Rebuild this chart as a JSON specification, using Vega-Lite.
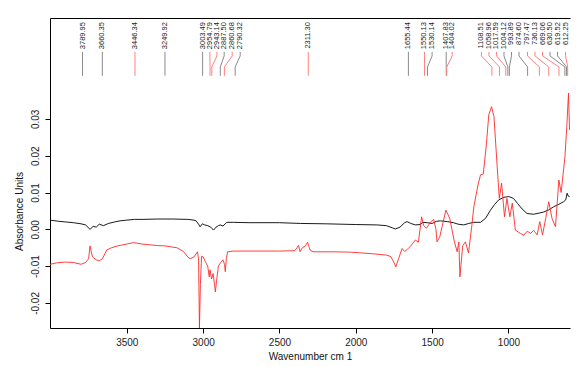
{
  "$schema": "https://vega.github.io/schema/vega-lite/v6.json",
  "width": 520,
  "height": 310,
  "autosize": {"type": "none"},
  "padding": {"left": 50, "top": 18, "right": 6, "bottom": 39},
  "background": "white",
  "config": {
    "font": "Liberation Sans",
    "view": {"stroke": null},
    "axis": {"grid": false, "domainColor": "#000000", "tickColor": "#000000", "labelColor": "#222222", "titleColor": "#111111", "labelFont": "Liberation Sans", "titleFont": "Liberation Sans"}
  },
  "datasets": {
    "spectra": [
      {"series": "Sample 1", "wn": 4003, "abs": 0.0025},
      {"series": "Sample 1", "wn": 3950, "abs": 0.0022},
      {"series": "Sample 1", "wn": 3900, "abs": 0.0020},
      {"series": "Sample 1", "wn": 3850, "abs": 0.0018},
      {"series": "Sample 1", "wn": 3800, "abs": 0.0015},
      {"series": "Sample 1", "wn": 3770, "abs": 0.0012},
      {"series": "Sample 1", "wn": 3741, "abs": 0.0000},
      {"series": "Sample 1", "wn": 3720, "abs": 0.0008},
      {"series": "Sample 1", "wn": 3700, "abs": 0.0006},
      {"series": "Sample 1", "wn": 3680, "abs": 0.0014},
      {"series": "Sample 1", "wn": 3653, "abs": 0.0010},
      {"series": "Sample 1", "wn": 3620, "abs": 0.0016},
      {"series": "Sample 1", "wn": 3580, "abs": 0.0020},
      {"series": "Sample 1", "wn": 3544, "abs": 0.0023},
      {"series": "Sample 1", "wn": 3500, "abs": 0.0025},
      {"series": "Sample 1", "wn": 3450, "abs": 0.0027},
      {"series": "Sample 1", "wn": 3393, "abs": 0.0027},
      {"series": "Sample 1", "wn": 3300, "abs": 0.0028},
      {"series": "Sample 1", "wn": 3200, "abs": 0.0028},
      {"series": "Sample 1", "wn": 3100, "abs": 0.0027},
      {"series": "Sample 1", "wn": 3060, "abs": 0.0025},
      {"series": "Sample 1", "wn": 3046, "abs": 0.0023},
      {"series": "Sample 1", "wn": 3030, "abs": 0.0014},
      {"series": "Sample 1", "wn": 3020, "abs": 0.0007},
      {"series": "Sample 1", "wn": 3005, "abs": 0.0015},
      {"series": "Sample 1", "wn": 2990, "abs": 0.0012},
      {"series": "Sample 1", "wn": 2970, "abs": 0.0010},
      {"series": "Sample 1", "wn": 2950, "abs": 0.0006},
      {"series": "Sample 1", "wn": 2932, "abs": -0.0002},
      {"series": "Sample 1", "wn": 2915, "abs": 0.0006},
      {"series": "Sample 1", "wn": 2900, "abs": 0.0010},
      {"series": "Sample 1", "wn": 2888, "abs": 0.0012},
      {"series": "Sample 1", "wn": 2870, "abs": 0.0009},
      {"series": "Sample 1", "wn": 2845, "abs": 0.0019},
      {"series": "Sample 1", "wn": 2800, "abs": 0.0019},
      {"series": "Sample 1", "wn": 2700, "abs": 0.0018},
      {"series": "Sample 1", "wn": 2500, "abs": 0.0018},
      {"series": "Sample 1", "wn": 2363, "abs": 0.0016},
      {"series": "Sample 1", "wn": 2200, "abs": 0.0015},
      {"series": "Sample 1", "wn": 2000, "abs": 0.0013},
      {"series": "Sample 1", "wn": 1862, "abs": 0.0012},
      {"series": "Sample 1", "wn": 1800, "abs": 0.0010},
      {"series": "Sample 1", "wn": 1760, "abs": 0.0004},
      {"series": "Sample 1", "wn": 1741, "abs": 0.0001},
      {"series": "Sample 1", "wn": 1710, "abs": 0.0006},
      {"series": "Sample 1", "wn": 1680, "abs": 0.0018},
      {"series": "Sample 1", "wn": 1664, "abs": 0.0021},
      {"series": "Sample 1", "wn": 1640, "abs": 0.0016},
      {"series": "Sample 1", "wn": 1610, "abs": 0.0012},
      {"series": "Sample 1", "wn": 1580, "abs": 0.0013},
      {"series": "Sample 1", "wn": 1560, "abs": 0.0019},
      {"series": "Sample 1", "wn": 1533, "abs": 0.0018},
      {"series": "Sample 1", "wn": 1500, "abs": 0.0016},
      {"series": "Sample 1", "wn": 1470, "abs": 0.0022},
      {"series": "Sample 1", "wn": 1446, "abs": 0.0023},
      {"series": "Sample 1", "wn": 1400, "abs": 0.0021},
      {"series": "Sample 1", "wn": 1360, "abs": 0.0018},
      {"series": "Sample 1", "wn": 1330, "abs": 0.0014},
      {"series": "Sample 1", "wn": 1293, "abs": 0.0012},
      {"series": "Sample 1", "wn": 1260, "abs": 0.0016},
      {"series": "Sample 1", "wn": 1230, "abs": 0.0019},
      {"series": "Sample 1", "wn": 1183, "abs": 0.0019},
      {"series": "Sample 1", "wn": 1150, "abs": 0.0030},
      {"series": "Sample 1", "wn": 1118, "abs": 0.0052},
      {"series": "Sample 1", "wn": 1090, "abs": 0.0068},
      {"series": "Sample 1", "wn": 1064, "abs": 0.0080},
      {"series": "Sample 1", "wn": 1030, "abs": 0.0087},
      {"series": "Sample 1", "wn": 998, "abs": 0.0089},
      {"series": "Sample 1", "wn": 967, "abs": 0.0084},
      {"series": "Sample 1", "wn": 940, "abs": 0.0070},
      {"series": "Sample 1", "wn": 910, "abs": 0.0055},
      {"series": "Sample 1", "wn": 878, "abs": 0.0043},
      {"series": "Sample 1", "wn": 836, "abs": 0.0041},
      {"series": "Sample 1", "wn": 800, "abs": 0.0044},
      {"series": "Sample 1", "wn": 770, "abs": 0.0047},
      {"series": "Sample 1", "wn": 740, "abs": 0.0052},
      {"series": "Sample 1", "wn": 705, "abs": 0.0061},
      {"series": "Sample 1", "wn": 670, "abs": 0.0068},
      {"series": "Sample 1", "wn": 639, "abs": 0.0075},
      {"series": "Sample 1", "wn": 625, "abs": 0.0080},
      {"series": "Sample 1", "wn": 616, "abs": 0.0098},
      {"series": "Sample 1", "wn": 608, "abs": 0.0090},
      {"series": "Sample 1", "wn": 600, "abs": 0.0089},
      {"series": "Sample 2", "wn": 4003, "abs": -0.0095},
      {"series": "Sample 2", "wn": 3960, "abs": -0.0091},
      {"series": "Sample 2", "wn": 3900, "abs": -0.0089},
      {"series": "Sample 2", "wn": 3850, "abs": -0.0090},
      {"series": "Sample 2", "wn": 3800, "abs": -0.0095},
      {"series": "Sample 2", "wn": 3770, "abs": -0.0090},
      {"series": "Sample 2", "wn": 3750, "abs": -0.0080},
      {"series": "Sample 2", "wn": 3741, "abs": -0.0045},
      {"series": "Sample 2", "wn": 3725, "abs": -0.0075},
      {"series": "Sample 2", "wn": 3700, "abs": -0.0083},
      {"series": "Sample 2", "wn": 3680, "abs": -0.0085},
      {"series": "Sample 2", "wn": 3660, "abs": -0.0080},
      {"series": "Sample 2", "wn": 3631, "abs": -0.0056},
      {"series": "Sample 2", "wn": 3600, "abs": -0.0050},
      {"series": "Sample 2", "wn": 3560, "abs": -0.0045},
      {"series": "Sample 2", "wn": 3500, "abs": -0.0040},
      {"series": "Sample 2", "wn": 3456, "abs": -0.0036},
      {"series": "Sample 2", "wn": 3400, "abs": -0.0040},
      {"series": "Sample 2", "wn": 3300, "abs": -0.0044},
      {"series": "Sample 2", "wn": 3250, "abs": -0.0045},
      {"series": "Sample 2", "wn": 3172, "abs": -0.0050},
      {"series": "Sample 2", "wn": 3130, "abs": -0.0060},
      {"series": "Sample 2", "wn": 3100, "abs": -0.0075},
      {"series": "Sample 2", "wn": 3085, "abs": -0.0080},
      {"series": "Sample 2", "wn": 3060, "abs": -0.0075},
      {"series": "Sample 2", "wn": 3037, "abs": -0.0061},
      {"series": "Sample 2", "wn": 3030, "abs": -0.0080},
      {"series": "Sample 2", "wn": 3024, "abs": -0.0268},
      {"series": "Sample 2", "wn": 3018, "abs": -0.0150},
      {"series": "Sample 2", "wn": 3010, "abs": -0.0073},
      {"series": "Sample 2", "wn": 3000, "abs": -0.0075},
      {"series": "Sample 2", "wn": 2985, "abs": -0.0088},
      {"series": "Sample 2", "wn": 2970, "abs": -0.0100},
      {"series": "Sample 2", "wn": 2960, "abs": -0.0129},
      {"series": "Sample 2", "wn": 2955, "abs": -0.0110},
      {"series": "Sample 2", "wn": 2945, "abs": -0.0135},
      {"series": "Sample 2", "wn": 2935, "abs": -0.0120},
      {"series": "Sample 2", "wn": 2925, "abs": -0.0150},
      {"series": "Sample 2", "wn": 2920, "abs": -0.0170},
      {"series": "Sample 2", "wn": 2912, "abs": -0.0140},
      {"series": "Sample 2", "wn": 2900, "abs": -0.0100},
      {"series": "Sample 2", "wn": 2885, "abs": -0.0090},
      {"series": "Sample 2", "wn": 2870, "abs": -0.0083},
      {"series": "Sample 2", "wn": 2860, "abs": -0.0095},
      {"series": "Sample 2", "wn": 2855, "abs": -0.0115},
      {"series": "Sample 2", "wn": 2848, "abs": -0.0080},
      {"series": "Sample 2", "wn": 2840, "abs": -0.0061},
      {"series": "Sample 2", "wn": 2800, "abs": -0.0059},
      {"series": "Sample 2", "wn": 2700, "abs": -0.0059},
      {"series": "Sample 2", "wn": 2500, "abs": -0.0059},
      {"series": "Sample 2", "wn": 2400, "abs": -0.0058},
      {"series": "Sample 2", "wn": 2385, "abs": -0.0050},
      {"series": "Sample 2", "wn": 2375, "abs": -0.0043},
      {"series": "Sample 2", "wn": 2365, "abs": -0.0061},
      {"series": "Sample 2", "wn": 2350, "abs": -0.0050},
      {"series": "Sample 2", "wn": 2330, "abs": -0.0045},
      {"series": "Sample 2", "wn": 2316, "abs": -0.0035},
      {"series": "Sample 2", "wn": 2300, "abs": -0.0056},
      {"series": "Sample 2", "wn": 2280, "abs": -0.0061},
      {"series": "Sample 2", "wn": 2143, "abs": -0.0061},
      {"series": "Sample 2", "wn": 2034, "abs": -0.0062},
      {"series": "Sample 2", "wn": 1900, "abs": -0.0066},
      {"series": "Sample 2", "wn": 1800, "abs": -0.0070},
      {"series": "Sample 2", "wn": 1771, "abs": -0.0074},
      {"series": "Sample 2", "wn": 1750, "abs": -0.0090},
      {"series": "Sample 2", "wn": 1738, "abs": -0.0102},
      {"series": "Sample 2", "wn": 1720, "abs": -0.0080},
      {"series": "Sample 2", "wn": 1697, "abs": -0.0052},
      {"series": "Sample 2", "wn": 1680, "abs": -0.0060},
      {"series": "Sample 2", "wn": 1664, "abs": -0.0055},
      {"series": "Sample 2", "wn": 1640, "abs": -0.0045},
      {"series": "Sample 2", "wn": 1610, "abs": -0.0029},
      {"series": "Sample 2", "wn": 1590, "abs": -0.0035},
      {"series": "Sample 2", "wn": 1569, "abs": 0.0034},
      {"series": "Sample 2", "wn": 1555, "abs": 0.0010},
      {"series": "Sample 2", "wn": 1537, "abs": 0.0003},
      {"series": "Sample 2", "wn": 1510, "abs": 0.0020},
      {"series": "Sample 2", "wn": 1490, "abs": 0.0027},
      {"series": "Sample 2", "wn": 1475, "abs": 0.0000},
      {"series": "Sample 2", "wn": 1468, "abs": -0.0034},
      {"series": "Sample 2", "wn": 1450, "abs": -0.0020},
      {"series": "Sample 2", "wn": 1410, "abs": 0.0052},
      {"series": "Sample 2", "wn": 1385, "abs": 0.0030},
      {"series": "Sample 2", "wn": 1354, "abs": -0.0034},
      {"series": "Sample 2", "wn": 1336, "abs": -0.0061},
      {"series": "Sample 2", "wn": 1325, "abs": -0.0034},
      {"series": "Sample 2", "wn": 1318, "abs": -0.0129},
      {"series": "Sample 2", "wn": 1300, "abs": -0.0045},
      {"series": "Sample 2", "wn": 1282, "abs": -0.0034},
      {"series": "Sample 2", "wn": 1262, "abs": -0.0064},
      {"series": "Sample 2", "wn": 1240, "abs": 0.0010},
      {"series": "Sample 2", "wn": 1227, "abs": 0.0061},
      {"series": "Sample 2", "wn": 1200, "abs": 0.0120},
      {"series": "Sample 2", "wn": 1183, "abs": 0.0148},
      {"series": "Sample 2", "wn": 1165, "abs": 0.0150},
      {"series": "Sample 2", "wn": 1144, "abs": 0.0234},
      {"series": "Sample 2", "wn": 1129, "abs": 0.0311},
      {"series": "Sample 2", "wn": 1111, "abs": 0.0333},
      {"series": "Sample 2", "wn": 1095, "abs": 0.0306},
      {"series": "Sample 2", "wn": 1074, "abs": 0.0170},
      {"series": "Sample 2", "wn": 1060, "abs": 0.0084},
      {"series": "Sample 2", "wn": 1045, "abs": 0.0125},
      {"series": "Sample 2", "wn": 1026, "abs": 0.0034},
      {"series": "Sample 2", "wn": 1010, "abs": 0.0084},
      {"series": "Sample 2", "wn": 991, "abs": 0.0034},
      {"series": "Sample 2", "wn": 975, "abs": 0.0071},
      {"series": "Sample 2", "wn": 955, "abs": -0.0002},
      {"series": "Sample 2", "wn": 922, "abs": -0.0011},
      {"series": "Sample 2", "wn": 900, "abs": -0.0016},
      {"series": "Sample 2", "wn": 877, "abs": -0.0005},
      {"series": "Sample 2", "wn": 855, "abs": -0.0011},
      {"series": "Sample 2", "wn": 835, "abs": -0.0003},
      {"series": "Sample 2", "wn": 812, "abs": -0.0015},
      {"series": "Sample 2", "wn": 795, "abs": 0.0021},
      {"series": "Sample 2", "wn": 777, "abs": -0.0015},
      {"series": "Sample 2", "wn": 756, "abs": 0.0030},
      {"series": "Sample 2", "wn": 736, "abs": 0.0075},
      {"series": "Sample 2", "wn": 715, "abs": 0.0030},
      {"series": "Sample 2", "wn": 692, "abs": 0.0007},
      {"series": "Sample 2", "wn": 670, "abs": 0.0134},
      {"series": "Sample 2", "wn": 655, "abs": 0.0100},
      {"series": "Sample 2", "wn": 630, "abs": 0.0197},
      {"series": "Sample 2", "wn": 618, "abs": 0.0279},
      {"series": "Sample 2", "wn": 607, "abs": 0.0370},
      {"series": "Sample 2", "wn": 600, "abs": 0.0270}
    ],
    "peaks": [
      {"peak": 3789.95, "lx": 3789.95, "spectrum": "Sample 1"},
      {"peak": 3660.35, "lx": 3660.35, "spectrum": "Sample 1"},
      {"peak": 3446.34, "lx": 3446.34, "spectrum": "Sample 2"},
      {"peak": 3249.92, "lx": 3249.92, "spectrum": "Sample 1"},
      {"peak": 3003.49, "lx": 3003.49, "spectrum": "Sample 1"},
      {"peak": 2954.79, "lx": 2955.8, "spectrum": "Sample 2"},
      {"peak": 2943.14, "lx": 2909.9, "spectrum": "Sample 2"},
      {"peak": 2887.50, "lx": 2862.1, "spectrum": "Sample 1"},
      {"peak": 2860.68, "lx": 2809.6, "spectrum": "Sample 2"},
      {"peak": 2790.32, "lx": 2757.2, "spectrum": "Sample 1"},
      {"peak": 2311.30, "lx": 2311.30, "spectrum": "Sample 2"},
      {"peak": 1655.44, "lx": 1655.44, "spectrum": "Sample 1"},
      {"peak": 1550.13, "lx": 1550.13, "spectrum": "Sample 2"},
      {"peak": 1530.14, "lx": 1500.3, "spectrum": "Sample 1"},
      {"peak": 1407.83, "lx": 1407.83, "spectrum": "Sample 1"},
      {"peak": 1404.02, "lx": 1369.1, "spectrum": "Sample 2"},
      {"peak": 1108.51, "lx": 1177.0, "spectrum": "Sample 2"},
      {"peak": 1058.96, "lx": 1127.8, "spectrum": "Sample 2"},
      {"peak": 1017.59, "lx": 1078.7, "spectrum": "Sample 2"},
      {"peak": 1004.12, "lx": 1029.5, "spectrum": "Sample 1"},
      {"peak": 993.89, "lx": 980.3, "spectrum": "Sample 1"},
      {"peak": 874.60, "lx": 931.1, "spectrum": "Sample 1"},
      {"peak": 797.47, "lx": 875.4, "spectrum": "Sample 2"},
      {"peak": 736.13, "lx": 826.2, "spectrum": "Sample 2"},
      {"peak": 669.06, "lx": 777.0, "spectrum": "Sample 2"},
      {"peak": 630.50, "lx": 727.9, "spectrum": "Sample 1"},
      {"peak": 619.52, "lx": 678.7, "spectrum": "Sample 1"},
      {"peak": 612.25, "lx": 626.2, "spectrum": "Sample 2"}
    ]
  },
  "resolve": {"axis": {"x": "independent", "y": "independent"}, "scale": {"color": "independent"}},
  "layer": [
    {
      "data": {"name": "spectra"},
      "mark": {"type": "line", "strokeWidth": 0.9, "clip": true},
      "encoding": {
        "x": {"field": "wn", "type": "quantitative", "scale": {"domain": [597, 4003], "reverse": true, "nice": false, "zero": false},
          "axis": {"orient": "bottom", "values": [3500, 3000, 2500, 2000, 1500, 1000], "format": "d", "tickSize": 5, "labelPadding": 4, "labelFontSize": 10, "labelFlush": false, "title": "Wavenumber cm 1", "titleFontSize": 10, "titleFontWeight": "normal", "titlePadding": 4}},
        "y": {"field": "abs", "type": "quantitative", "scale": {"domain": [-0.0268, 0.0574], "nice": false, "zero": false},
          "axis": {"values": [-0.02, -0.01, 0, 0.01, 0.02, 0.03], "labelExpr": "replace(format(datum.value, '.2f'), '\u2212', '-')", "tickSize": 5, "labelAngle": -90, "labelAlign": "center", "labelBaseline": "bottom", "labelPadding": 5, "labelFontSize": 10, "labelFlush": false, "title": "Absorbance Units", "titleFontSize": 10, "titleFontWeight": "normal", "titleAngle": -90, "titleAlign": "center", "titleBaseline": "middle", "titleX": -31, "titleY": 193}},
        "color": {"field": "series", "type": "nominal", "scale": {"domain": ["Sample 1", "Sample 2"], "range": ["#000000", "#ff2a2a"]}, "legend": null},
        "order": {"field": "wn", "sort": "descending"}
      }
    },
    {
      "data": {"name": "peaks"},
      "mark": {"type": "rule", "strokeWidth": 1},
      "encoding": {
        "x": {"field": "lx", "type": "quantitative", "scale": {"domain": [597, 4003], "reverse": true, "nice": false, "zero": false},
          "axis": {"orient": "top", "ticks": false, "labels": false, "title": null, "domainColor": "#000000"}},
        "y": {"datum": 0.0482, "type": "quantitative", "scale": {"domain": [-0.0268, 0.0574], "nice": false, "zero": false}, "axis": null},
        "y2": {"datum": 0.0471},
        "color": {"field": "spectrum", "type": "nominal", "scale": {"domain": ["Sample 1", "Sample 2"], "range": ["#8a8a8a", "#ff8080"]}, "legend": null}
      }
    },
    {
      "data": {"name": "peaks"},
      "mark": {"type": "rule", "strokeWidth": 1},
      "encoding": {
        "x": {"field": "lx", "type": "quantitative", "scale": {"domain": [597, 4003], "reverse": true, "nice": false, "zero": false}, "axis": null},
        "x2": {"field": "peak"},
        "y": {"datum": 0.0471, "type": "quantitative", "scale": {"domain": [-0.0268, 0.0574], "nice": false, "zero": false}, "axis": null},
        "y2": {"datum": 0.0441},
        "color": {"field": "spectrum", "type": "nominal", "scale": {"domain": ["Sample 1", "Sample 2"], "range": ["#8a8a8a", "#ff8080"]}, "legend": null}
      }
    },
    {
      "data": {"name": "peaks"},
      "mark": {"type": "rule", "strokeWidth": 1},
      "encoding": {
        "x": {"field": "peak", "type": "quantitative", "scale": {"domain": [597, 4003], "reverse": true, "nice": false, "zero": false}, "axis": null},
        "y": {"datum": 0.0441, "type": "quantitative", "scale": {"domain": [-0.0268, 0.0574], "nice": false, "zero": false}, "axis": null},
        "y2": {"datum": 0.0417},
        "color": {"field": "spectrum", "type": "nominal", "scale": {"domain": ["Sample 1", "Sample 2"], "range": ["#8a8a8a", "#ff8080"]}, "legend": null}
      }
    },
    {
      "data": {"name": "peaks"},
      "mark": {"type": "text", "angle": 270, "align": "right", "baseline": "middle", "fontSize": 7.5, "color": "#222222"},
      "encoding": {
        "x": {"field": "lx", "type": "quantitative", "scale": {"domain": [597, 4003], "reverse": true, "nice": false, "zero": false}, "axis": null},
        "y": {"datum": 0.0563, "type": "quantitative", "scale": {"domain": [-0.0268, 0.0574], "nice": false, "zero": false}, "axis": null},
        "text": {"field": "peak", "type": "quantitative", "format": ".2f"}
      }
    }
  ]
}
